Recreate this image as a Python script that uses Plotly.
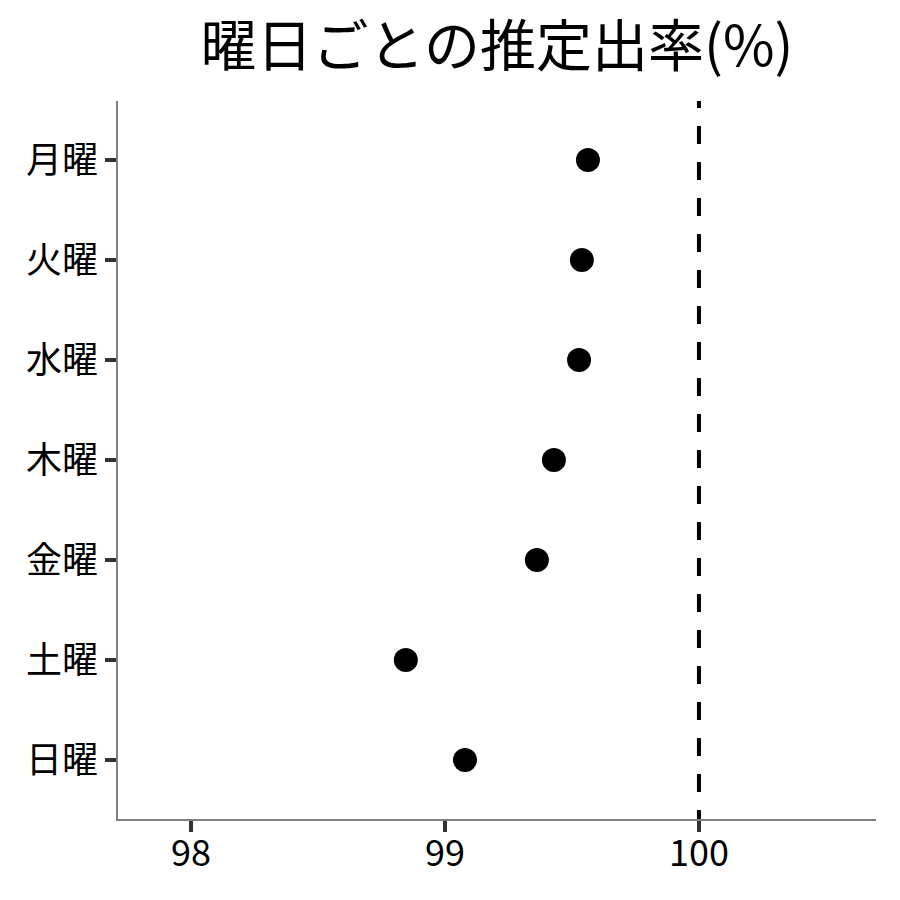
import plotly.graph_objects as go

# 曜日ごとの推定出率
days = ["月曜", "火曜", "水曜", "木曜", "金曜", "土曜", "日曜"]
rates = [99.563, 99.539, 99.528, 99.429, 99.362, 98.846, 99.079]
x_ticks = [98, 99, 100]
ref_line = 100

FONT = "Noto Sans CJK JP"

fig = go.Figure()
fig.add_trace(go.Scatter(
    x=rates, y=days, mode="markers",
    marker=dict(color="black", size=24),
    showlegend=False, hoverinfo="x+y",
))

# 100% の基準線 (上から破線を始めて、描画領域で切り取る)
fig.add_shape(
    type="line", xref="x", yref="y",
    x0=ref_line, x1=ref_line, y0=-0.70, y1=6.8,
    line=dict(color="black", width=4, dash="18px,18px"),
)

# ページの余白(8px)ぶんずらしておく
fig.update_layout(
    width=900, height=900,
    margin=dict(l=110, r=32, t=93, b=89),
    paper_bgcolor="white", plot_bgcolor="white",
    font=dict(family=FONT, color="black", size=36),
    title=dict(
        text="曜日ごとの推定出率(%)",
        x=0.5, xref="paper", xanchor="center",
        y=0.957, yref="container", yanchor="middle",
        font=dict(size=56, family=FONT, color="black"),
    ),
)
fig.update_xaxes(
    range=[97.713, 100.697],
    tickvals=x_ticks, ticktext=[str(v) for v in x_ticks],
    showgrid=False, zeroline=False,
    showline=True, linecolor="#808080", linewidth=1.5,
    ticks="outside", ticklen=11, tickwidth=3.5, tickcolor="#333333",
    ticklabelstandoff=-9,
    tickfont=dict(size=36, family=FONT, color="black"),
)
fig.update_yaxes(
    type="category", categoryorder="array", categoryarray=days,
    range=[6.59, -0.59],
    showgrid=False, zeroline=False,
    showline=True, linecolor="#808080", linewidth=1.5,
    ticks="outside", ticklen=11, tickwidth=3.5, tickcolor="#333333",
    ticklabelstandoff=0,
    tickfont=dict(size=36, family=FONT, color="black"),
)

fig.write_html("out.html")
